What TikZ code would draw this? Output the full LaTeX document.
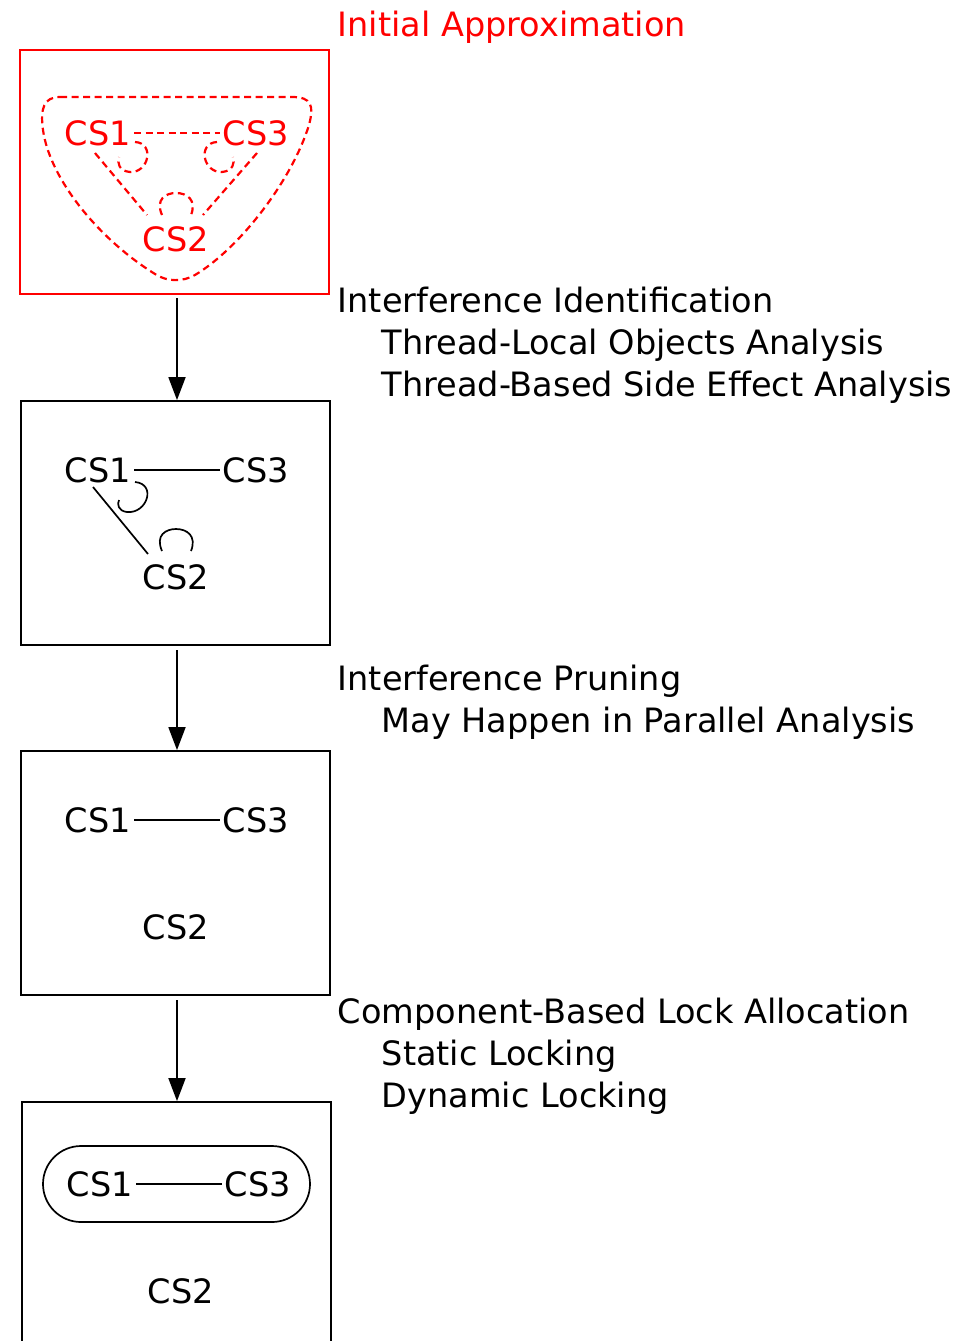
\documentclass[tikz,border=0pt]{standalone}
\usepackage{fontspec}
\setmainfont{DejaVu Sans}
\usetikzlibrary{arrows.meta,calc}
\begin{document}
\begin{tikzpicture}[x=1pt,y=-1pt,
  every node/.style={font=\fontsize{33.55}{42}\selectfont},
  lbl/.style={anchor=base west,inner sep=0pt},
  cs/.style={inner sep=3pt},
  stage/.style={draw,line width=1.8pt,minimum width=309pt,minimum height=244pt,inner sep=0pt},
  edge/.style={line width=1.7pt},
  hint/.style={line width=2.2pt,red,dash pattern=on 7pt off 4.5pt},
  flow/.style={line width=1.8pt,-{Triangle[length=23pt,width=17pt]}}]
\useasboundingbox (0,0) rectangle (969,1341);
\clip (0,0) rectangle (969,1341);

% ---- stage 1: initial approximation (red, dashed) ----
\node[stage,draw=red] (b1) at (174.5,172) {};
\node[lbl,red] (t1) at (337.5,36) {Initial Approximation};
\node[cs,red] (a1) at (98,133) {CS1};
\node[cs,red] (c1) at (256,133) {CS3};
\node[cs,red] (m1) at (176,239) {CS2};
\draw[hint] (60,97) -- (292,97) .. controls (312,97) and (314,106) .. (309,125)
  .. controls (292,180) and (240,248) .. (195,275)
  .. controls (183,282) and (167,282) .. (155,274)
  .. controls (100,240) and (50,180) .. (43,130)
  .. controls (40,108) and (44,97) .. (60,97) -- cycle;
\draw[hint] (a1.east) -- (c1.west);
\draw[hint] ($(a1)+(-3,20)$) -- ($(m1)+(-29,-24)$);
\draw[hint] ($(c1)+(1,20)$) -- ($(m1)+(27,-24)$);
\draw[hint] ($(a1)+(37,9)$) .. controls ($(a1)+(57,10)$) and ($(a1)+(51,40)$) .. ($(a1)+(32,39)$)
  .. controls ($(a1)+(21,38)$) and ($(a1)+(19,30)$) .. ($(a1)+(21,24)$);
\draw[hint] ($(c1)+(-39,9)$) .. controls ($(c1)+(-59,10)$) and ($(c1)+(-53,40)$) .. ($(c1)+(-34,39)$)
  .. controls ($(c1)+(-23,38)$) and ($(c1)+(-21,30)$) .. ($(c1)+(-23,24)$);
\draw[hint] ($(m1)+(-14,-24)$) .. controls ($(m1)+(-21,-40)$) and ($(m1)+(-10,-46)$) .. ($(m1)+(0,-46)$)
  .. controls ($(m1)+(11,-46)$) and ($(m1)+(21,-39)$) .. ($(m1)+(15,-24)$);

% ---- stage 2: after interference identification ----
\node[stage] (b2) at (175.5,523) {};
\node[lbl] (t2) at (337.5,312) {Interference Identification};
\node[lbl] (t2a) at (381.5,354) {Thread-Local Objects Analysis};
\node[lbl] (t2b) at (381.5,396) {Thread-Based Side Effect Analysis};
\node[cs] (a2) at (98,470) {CS1};
\node[cs] (c2) at (256,470) {CS3};
\node[cs] (m2) at (176,577) {CS2};
\draw[edge] (a2.east) -- (c2.west);
\draw[edge] ($(a2)+(-5,17)$) -- ($(m2)+(-28,-23)$);
\draw[edge] ($(a2)+(37,12)$) .. controls ($(a2)+(59,14)$) and ($(a2)+(49,44)$) .. ($(a2)+(29,42)$)
  .. controls ($(a2)+(20,41)$) and ($(a2)+(19,34)$) .. ($(a2)+(21,30)$);
\draw[edge] ($(m2)+(-14,-26)$) .. controls ($(m2)+(-21,-42)$) and ($(m2)+(-10,-48)$) .. ($(m2)+(0,-48)$)
  .. controls ($(m2)+(11,-48)$) and ($(m2)+(21,-41)$) .. ($(m2)+(15,-26)$);

% ---- stage 3: after interference pruning ----
\node[stage] (b3) at (175.5,873) {};
\node[lbl] (t3) at (337.5,690) {Interference Pruning};
\node[lbl] (t3a) at (381.5,732) {May Happen in Parallel Analysis};
\node[cs] (a3) at (98,820) {CS1};
\node[cs] (c3) at (256,820) {CS3};
\node[cs] (m3) at (176,927) {CS2};
\draw[edge] (a3.east) -- (c3.west);

% ---- stage 4: lock allocation ----
\node[stage,minimum height=300pt] (b4) at (176.5,1252) {};
\node[lbl] (t4) at (337.5,1023) {Component-Based Lock Allocation};
\node[lbl] (t4a) at (381.5,1065) {Static Locking};
\node[lbl] (t4b) at (381.5,1107) {Dynamic Locking};
\node[cs] (a4) at (100,1184) {CS1};
\node[cs] (c4) at (258,1184) {CS3};
\node[cs] (m4) at (181,1291) {CS2};
\node[draw,line width=1.7pt,rounded corners=38pt,minimum width=267pt,minimum height=76pt,inner sep=0pt] (grp) at (176.5,1184) {};
\draw[edge] (a4.east) -- (c4.west);

% ---- flow arrows between stages ----
\coordinate (s1) at (177,298);
\coordinate (s2) at (177,650);
\coordinate (s3) at (177,1000);
\draw[flow] (s1) -- (s1 |- b2.north);
\draw[flow] (s2) -- (s2 |- b3.north);
\draw[flow] (s3) -- (s3 |- b4.north);
\end{tikzpicture}
\end{document}
